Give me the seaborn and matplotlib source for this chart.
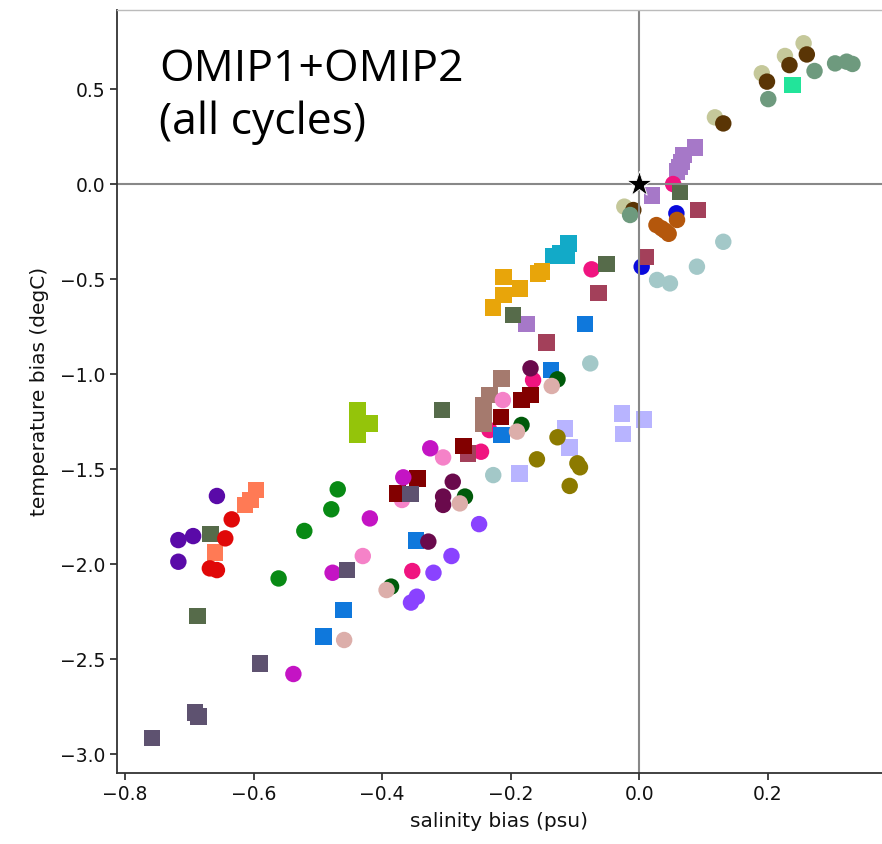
import numpy as np
import pandas as pd
import matplotlib
matplotlib.use("Agg")
import matplotlib.pyplot as plt
import seaborn as sns

# ---- data: (group name, marker, colour) + salinity / temperature bias values ----
group_names = ["pale_olive", "dark_brown", "grey_green", "mint", "lilac", "pink",
               "dk_greygreen", "blue_c", "orange_brown", "brown_red", "pale_teal",
               "cyan", "orange", "blue_s", "dark_magenta", "dark_green", "pale_pink",
               "mauve", "light_pink", "dark_red", "lavender", "olive", "magenta",
               "violet", "purple_grey", "yellowgreen", "purple", "coral", "red", "green"]
group_markers = ["o", "o", "o", "s", "s", "o", "s", "o", "o", "s", "o", "s", "s", "s",
                 "o", "o", "o", "s", "o", "s", "s", "o", "o", "o", "s", "s", "o", "s", "o", "o"]
group_colors = ["#c5c89a", "#5a3505", "#6e9a7e", "#22e49a", "#a678c8", "#f01480",
                "#566b4a", "#0a0adc", "#b4570c", "#a3405a", "#a3c8c8", "#12aac8",
                "#e8a50a", "#0f78dc", "#6a0a4c", "#005a0a", "#dcaeaa", "#a57a6e",
                "#f582c8", "#820000", "#b8b4ff", "#8c7a00", "#c414c4", "#8a42ff",
                "#5e5270", "#94c40a", "#5a0aa8", "#ff7a55", "#e00808", "#088a14"]

sal_pale_olive = [0.256, 0.227, 0.191, 0.118, -0.023]
tmp_pale_olive = [0.741, 0.674, 0.583, 0.351, -0.119]
sal_dark_brown = [0.261, 0.234, 0.199, 0.131, -0.009]
tmp_dark_brown = [0.682, 0.626, 0.539, 0.319, -0.137]
sal_grey_green = [0.273, 0.305, 0.323, 0.332, 0.201, -0.014]
tmp_grey_green = [0.595, 0.635, 0.644, 0.632, 0.447, -0.163]
sal_mint = [0.239]
tmp_mint = [0.521]
sal_lilac = [0.087, 0.069, 0.066, 0.063, 0.059, 0.020, -0.175]
tmp_lilac = [0.193, 0.153, 0.117, 0.091, 0.065, -0.060, -0.737]
sal_pink = [0.053, -0.074, -0.165, -0.233, -0.246, -0.353]
tmp_pink = [0.000, -0.449, -1.032, -1.295, -1.409, -2.037]
sal_dk_greygreen = [0.064, -0.051, -0.196, -0.307, -0.667, -0.687]
tmp_dk_greygreen = [-0.040, -0.421, -0.689, -1.189, -1.842, -2.274]
sal_blue_c = [0.058, 0.004]
tmp_blue_c = [-0.154, -0.435]
sal_orange_brown = [0.027, 0.035, 0.059, 0.046, 0.040]
tmp_orange_brown = [-0.216, -0.233, -0.189, -0.262, -0.245]
sal_brown_red = [0.092, 0.011, -0.063, -0.144, -0.266]
tmp_brown_red = [-0.137, -0.383, -0.575, -0.834, -1.418]
sal_pale_teal = [0.131, 0.090, 0.028, 0.048, -0.076, -0.227]
tmp_pale_teal = [-0.304, -0.435, -0.505, -0.523, -0.944, -1.532]
sal_cyan = [-0.110, -0.113, -0.133, -0.123]
tmp_cyan = [-0.312, -0.379, -0.379, -0.365]
sal_orange = [-0.151, -0.157, -0.185, -0.211, -0.211, -0.227]
tmp_orange = [-0.461, -0.470, -0.549, -0.488, -0.584, -0.650]
sal_blue_s = [-0.084, -0.137, -0.214, -0.347, -0.460, -0.491]
tmp_blue_s = [-0.737, -0.979, -1.321, -1.877, -2.242, -2.382]
sal_dark_magenta = [-0.169, -0.290, -0.305, -0.305, -0.328]
tmp_dark_magenta = [-0.970, -1.567, -1.645, -1.689, -1.882]
sal_dark_green = [-0.127, -0.183, -0.271, -0.386]
tmp_dark_green = [-1.028, -1.268, -1.645, -2.119]
sal_pale_pink = [-0.136, -0.190, -0.279, -0.393, -0.459]
tmp_pale_pink = [-1.063, -1.303, -1.681, -2.137, -2.400]
sal_mauve = [-0.214, -0.233, -0.242, -0.242, -0.242]
tmp_mauve = [-1.023, -1.111, -1.163, -1.216, -1.260]
sal_light_pink = [-0.212, -0.305, -0.369, -0.430]
tmp_light_pink = [-1.137, -1.439, -1.663, -1.958]
sal_dark_red = [-0.169, -0.183, -0.215, -0.273, -0.345, -0.376]
tmp_dark_red = [-1.111, -1.137, -1.225, -1.379, -1.549, -1.628]
sal_lavender = [-0.115, -0.108, -0.186, -0.027, -0.025, 0.008]
tmp_lavender = [-1.286, -1.386, -1.523, -1.207, -1.316, -1.239]
sal_olive = [-0.127, -0.159, -0.096, -0.092, -0.108]
tmp_olive = [-1.333, -1.449, -1.470, -1.491, -1.589]
sal_magenta = [-0.325, -0.367, -0.419, -0.477, -0.538]
tmp_magenta = [-1.391, -1.544, -1.760, -2.046, -2.579]
sal_violet = [-0.249, -0.292, -0.320, -0.346, -0.355]
tmp_violet = [-1.790, -1.958, -2.046, -2.172, -2.203]
sal_purple_grey = [-0.356, -0.455, -0.590, -0.691, -0.686, -0.758]
tmp_purple_grey = [-1.632, -2.032, -2.523, -2.782, -2.803, -2.917]
sal_yellowgreen = [-0.438, -0.438, -0.419, -0.438]
tmp_yellowgreen = [-1.193, -1.318, -1.260, -1.260]
sal_purple = [-0.657, -0.717, -0.694, -0.717]
tmp_purple = [-1.642, -1.874, -1.853, -1.988]
sal_coral = [-0.596, -0.605, -0.613, -0.660]
tmp_coral = [-1.611, -1.663, -1.689, -1.940]
sal_red = [-0.634, -0.644, -0.668, -0.657]
tmp_red = [-1.765, -1.865, -2.023, -2.032]
sal_green = [-0.469, -0.479, -0.521, -0.561]
tmp_green = [-1.607, -1.712, -1.826, -2.076]

ref_sal = [0.0]
ref_tmp = [0.0]

title_lines = ["OMIP1+OMIP2", "(all cycles)"]
xticks = [-0.8, -0.6, -0.4, -0.2, 0.0, 0.2]
yticks = [0.5, 0.0, -0.5, -1.0, -1.5, -2.0, -2.5, -3.0]

# ---- build table ----
rows = []
g = globals()
for name, mk in zip(group_names, group_markers):
    for xv, yv in zip(g["sal_" + name], g["tmp_" + name]):
        rows.append({"salinity": xv, "temperature": yv, "group": name, "marker": mk})
df = pd.DataFrame(rows)
palette = dict(zip(group_names, group_colors))

sns.set_style("ticks")
plt.rcParams["font.family"] = ["DejaVu Sans"]
plt.rcParams["text.color"] = "#111111"
plt.rcParams["axes.labelcolor"] = "#111111"
plt.rcParams["xtick.color"] = "#111111"
plt.rcParams["ytick.color"] = "#111111"

fig = plt.figure(figsize=(8.82, 8.44), dpi=100)
ax = fig.add_axes([117 / 882, 71 / 844, 765 / 882, 763 / 844])

sns.scatterplot(data=df, x="salinity", y="temperature", hue="group", style="marker",
                markers={"o": "o", "s": "s"}, palette=palette, s=140, linewidth=0,
                legend=False, ax=ax)

ax.axhline(0, color="#888888", lw=1.5)
ax.axvline(0, color="#888888", lw=1.5)

sns.scatterplot(x=ref_sal, y=ref_tmp, marker="*", color="black", s=360,
                edgecolor="white", linewidth=0.6, ax=ax, zorder=5, legend=False)

ax.set_xlim(-0.8125, 0.378)
ax.set_ylim(-3.10, 0.916)
ax.set_xticks(xticks)
ax.set_yticks(yticks)
ax.set_xticklabels([f"{t:.1f}".replace("-", "\u2212") for t in xticks])
ax.set_yticklabels([f"{t:.1f}".replace("-", "\u2212") for t in yticks])
ax.tick_params(axis="both", labelsize=13.5, length=5, width=1.2, color="#222222")
for sp in ax.spines.values():
    sp.set_color("#333333")
    sp.set_linewidth(1.3)
ax.spines["right"].set_visible(False)
ax.spines["top"].set_color("#bbbbbb")
ax.spines["top"].set_linewidth(1.0)

ax.set_xlabel("salinity bias (psu)", fontsize=14.5, labelpad=6)
ax.set_ylabel("temperature bias (degC)", fontsize=14.5, labelpad=8)

fig.text(159 / 882, 1 - 81 / 844, title_lines[0], fontsize=32, family=["Open Sans", "DejaVu Sans"],
         va="baseline", ha="left", color="black")
fig.text(159 / 882, 1 - 134 / 844, title_lines[1], fontsize=32, family=["Open Sans", "DejaVu Sans"],
         va="baseline", ha="left", color="black")

fig.savefig("out.png", dpi=100)
